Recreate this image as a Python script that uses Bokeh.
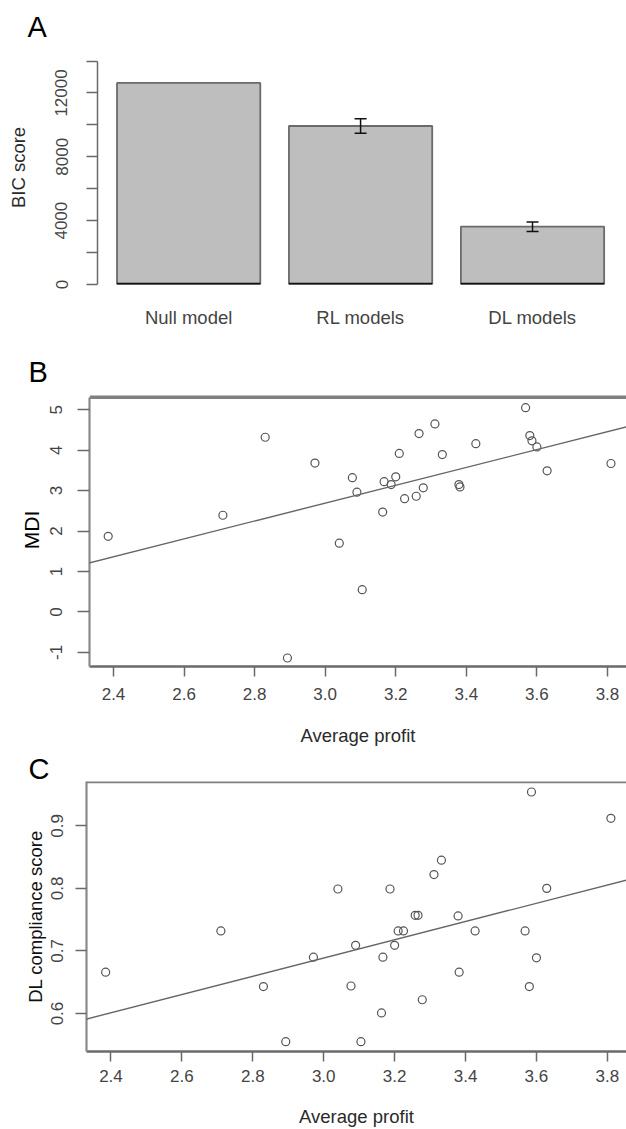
import numpy as np
from bokeh.plotting import figure
from bokeh.layouts import column, row
from bokeh.models import (Range1d, FixedTicker, Whisker, TeeHead, ColumnDataSource,
                          Span, Slope, NumeralTickFormatter)
from bokeh.embed import file_html
from bokeh.resources import INLINE

# ---------------- data ----------------
models = ["Null model", "RL models", "DL models"]
bic_mean = [12630, 9930, 3620]
bic_err = [0, 450, 300]
bic_ticks = [0, 2000, 4000, 6000, 8000, 10000, 12000, 14000]
bic_tick_labels = ["0", "", "4000", "", "8000", "", "12000", ""]

avg_profit = [2.385, 2.71, 2.83, 2.893, 2.971, 3.04, 3.077, 3.09, 3.105, 3.163,
              3.167, 3.187, 3.2, 3.21, 3.225, 3.258, 3.266, 3.278, 3.311, 3.332,
              3.379, 3.382, 3.427, 3.568, 3.58, 3.586, 3.6, 3.629, 3.81]
mdi = [1.87, 2.39, 4.32, -1.14, 3.68, 1.70, 3.32, 2.96, 0.55, 2.47,
       3.22, 3.15, 3.34, 3.92, 2.80, 2.86, 4.41, 3.07, 4.65, 3.89,
       3.15, 3.09, 4.16, 5.05, 4.36, 4.23, 4.08, 3.49, 3.67]
dl_compliance = [0.666, 0.732, 0.643, 0.555, 0.690, 0.799, 0.644, 0.709, 0.555, 0.601,
                 0.690, 0.799, 0.709, 0.732, 0.732, 0.757, 0.757, 0.622, 0.822, 0.845,
                 0.756, 0.666, 0.732, 0.732, 0.643, 0.954, 0.689, 0.800, 0.912]
profit_ticks = [2.4, 2.6, 2.8, 3.0, 3.2, 3.4, 3.6, 3.8]
mdi_ticks = [-1, 0, 1, 2, 3, 4, 5]
dl_ticks = [0.6, 0.7, 0.8, 0.9]

FONT = "Liberation Sans"
TICK_COL = "#444444"
AXIS_COL = "#6a6a6a"


def style_axis(ax, tick_out, standoff, label_standoff, label_size="18.5px",
               label_color="#2a2a2a"):
    ax.major_tick_out = tick_out
    ax.major_tick_in = 0
    ax.minor_tick_out = 0
    ax.minor_tick_in = 0
    ax.major_tick_line_color = AXIS_COL
    ax.major_tick_line_width = 1.5
    ax.axis_line_color = AXIS_COL
    ax.axis_line_width = 1.5
    ax.major_label_text_font = FONT
    ax.major_label_text_font_size = "17px"
    ax.major_label_text_color = TICK_COL
    ax.major_label_standoff = standoff
    ax.axis_label_text_font = FONT
    ax.axis_label_text_font_style = "normal"
    ax.axis_label_text_font_size = label_size
    ax.axis_label_text_color = label_color
    ax.axis_label_standoff = label_standoff


def base_fig(h, x_range, y_range, top, bottom, left, letter, offset, standoff):
    p = figure(width=626, height=h, x_range=x_range, y_range=y_range,
               output_backend="svg", toolbar_location=None,
               min_border_top=top, min_border_bottom=bottom,
               min_border_left=left, min_border_right=0, title=letter)
    p.grid.visible = False
    p.outline_line_color = None
    p.background_fill_color = "white"
    p.border_fill_color = "white"
    p.title.align = "left"
    p.title.offset = offset
    p.title.standoff = standoff
    p.title.text_font = FONT
    p.title.text_font_size = "29px"
    p.title.text_font_style = "normal"
    p.title.text_color = "black"
    return p


# ---------------- panel A ----------------
centers = [0.7 + 1.2 * i for i in range(len(models))]
pA = base_fig(345, Range1d(0.0638, 3.756), Range1d(0, 14659), 50, 61, 97, "A", -70, 15)
srcA = ColumnDataSource(dict(
    x=centers, left=[c - 0.5 for c in centers], right=[c + 0.5 for c in centers],
    top=bic_mean, bottom=[0] * len(models)))
pA.quad(left="left", right="right", top="top", bottom="bottom", source=srcA,
        fill_color="#bebebe", line_color="#6a6a6a", line_width=1.8)
pA.segment(x0="left", x1="right", y0="bottom", y1="bottom", source=srcA,
           line_color="#111111", line_width=3.5)
err_src = ColumnDataSource(dict(
    x=[c for c, e in zip(centers, bic_err) if e > 0],
    upper=[m + e for m, e in zip(bic_mean, bic_err) if e > 0],
    lower=[m - e for m, e in zip(bic_mean, bic_err) if e > 0]))
pA.add_layout(Whisker(source=err_src, base="x", upper="upper", lower="lower",
                      level="overlay", line_color="#111111", line_width=1.5,
                      upper_head=TeeHead(size=12, line_color="#111111", line_width=1.5),
                      lower_head=TeeHead(size=12, line_color="#111111", line_width=1.5)))
axA_y = pA.yaxis[0]
axA_y.ticker = FixedTicker(ticks=bic_ticks)
axA_y.bounds = (bic_ticks[0], bic_ticks[-1])
axA_y.major_label_overrides = {t: l for t, l in zip(bic_ticks, bic_tick_labels)}
axA_y.major_label_orientation = "vertical"
axA_y.axis_label = "BIC score"
style_axis(axA_y, 11, 19, 24)
axA_x = pA.xaxis[0]
axA_x.ticker = FixedTicker(ticks=centers)
axA_x.major_label_overrides = {c: m for c, m in zip(centers, models)}
style_axis(axA_x, 0, 22, 0)
axA_x.axis_line_color = None
axA_x.major_tick_line_color = None
axA_x.major_label_text_font_size = "18.5px"

# ---------------- panel B ----------------
B_TOP = 5.31
pB = base_fig(405, Range1d(2.332, 3.854), Range1d(-1.35, 5.4015), 48, 84, 89, "B", -61, 11)
pB.scatter(avg_profit, mdi, marker="circle", size=8, fill_color=None,
           line_color="#555555", line_width=1.2)
kB = np.polyfit(avg_profit, mdi, 1)
pB.add_layout(Slope(gradient=kB[0], y_intercept=kB[1], line_color="#666666", line_width=1.4))
pB.add_layout(Span(location=B_TOP, dimension="width", line_color="#808080", line_width=3.5))
axB_y = pB.yaxis[0]
axB_y.ticker = FixedTicker(ticks=mdi_ticks)
axB_y.bounds = (-1.35, B_TOP)
axB_y.formatter = NumeralTickFormatter(format="0")
axB_y.major_label_orientation = "vertical"
axB_y.axis_label = "MDI"
style_axis(axB_y, 12, 15, 5, label_size="21px", label_color="black")
axB_y.axis_line_width = 2.2
axB_y.axis_line_color = "#8a8a8a"
axB_x = pB.xaxis[0]
axB_x.ticker = FixedTicker(ticks=profit_ticks)
axB_x.formatter = NumeralTickFormatter(format="0.0")
axB_x.axis_label = "Average profit"
style_axis(axB_x, 10, 11, 22)
axB_x.axis_line_width = 2.5

# ---------------- panel C ----------------
pC = base_fig(379, Range1d(2.331, 3.854), Range1d(0.5393, 0.9708), 31, 76, 86, "C", -58, -6)
pC.scatter(avg_profit, dl_compliance, marker="circle", size=8, fill_color=None,
           line_color="#555555", line_width=1.2)
kC = np.polyfit(avg_profit, dl_compliance, 1)
pC.add_layout(Slope(gradient=kC[0], y_intercept=kC[1], line_color="#666666", line_width=1.4))
pC.add_layout(Span(location=0.9708, dimension="width", line_color="#808080", line_width=3.5))
axC_y = pC.yaxis[0]
axC_y.ticker = FixedTicker(ticks=dl_ticks)
axC_y.formatter = NumeralTickFormatter(format="0.0")
axC_y.major_label_orientation = "vertical"
axC_y.axis_label = "DL compliance score"
style_axis(axC_y, 11, 12, 3, label_size="18.5px", label_color="#111111")
axC_y.axis_line_width = 2.2
axC_y.axis_line_color = "#8a8a8a"
axC_x = pC.xaxis[0]
axC_x.ticker = FixedTicker(ticks=profit_ticks)
axC_x.formatter = NumeralTickFormatter(format="0.0")
axC_x.axis_label = "Average profit"
style_axis(axC_x, 10, 8, 21)
axC_x.axis_line_width = 2.5

layout = column(row(pA), row(pB), row(pC))
open("out.html", "w").write(file_html(layout, INLINE))
